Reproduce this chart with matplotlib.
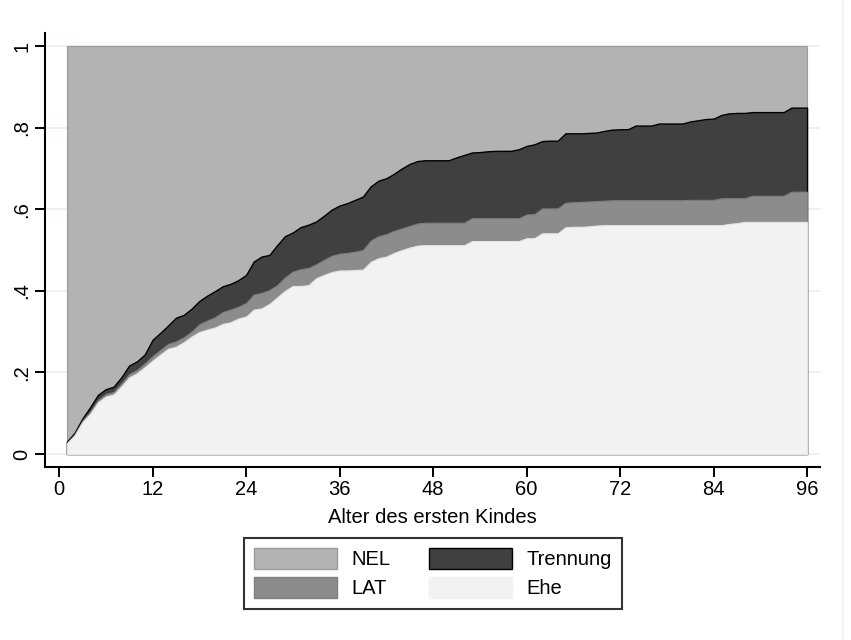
import matplotlib
matplotlib.use("Agg")
import matplotlib.pyplot as plt
from matplotlib.lines import Line2D
from matplotlib.patches import Patch

plt.rcParams['font.family'] = ['Liberation Sans', 'DejaVu Sans']

# Alter des ersten Kindes in Monaten
months = list(range(1, 97))

# kumulierte Anteile (gestapelt von unten): Ehe, + LAT, + Trennung; NEL fuellt bis 1
ehe = [0.026, 0.046, 0.078, 0.099, 0.127, 0.141, 0.146, 0.166, 0.188, 0.198,
       0.213, 0.229, 0.244, 0.258, 0.263, 0.274, 0.288, 0.299, 0.305, 0.310,
       0.319, 0.323, 0.332, 0.337, 0.354, 0.357, 0.368, 0.384, 0.400, 0.412,
       0.412, 0.414, 0.431, 0.439, 0.446, 0.450, 0.450, 0.451, 0.452, 0.471,
       0.480, 0.484, 0.493, 0.500, 0.506, 0.511, 0.512, 0.512, 0.512, 0.512,
       0.512, 0.512, 0.522, 0.522, 0.522, 0.522, 0.522, 0.522, 0.522, 0.529,
       0.529, 0.541, 0.541, 0.541, 0.556, 0.557, 0.557, 0.558, 0.560, 0.561,
       0.561, 0.561, 0.561, 0.561, 0.561, 0.561, 0.561, 0.561, 0.561, 0.561,
       0.561, 0.561, 0.561, 0.561, 0.561, 0.564, 0.566, 0.569, 0.569, 0.569,
       0.569, 0.569, 0.569, 0.569, 0.569, 0.569]
lat = [0.027, 0.048, 0.082, 0.104, 0.132, 0.147, 0.152, 0.173, 0.196, 0.206,
       0.222, 0.240, 0.255, 0.270, 0.276, 0.286, 0.300, 0.318, 0.327, 0.335,
       0.348, 0.354, 0.361, 0.370, 0.391, 0.395, 0.402, 0.414, 0.433, 0.447,
       0.453, 0.456, 0.465, 0.476, 0.486, 0.491, 0.493, 0.496, 0.500, 0.523,
       0.534, 0.539, 0.547, 0.553, 0.559, 0.565, 0.567, 0.567, 0.567, 0.567,
       0.567, 0.567, 0.578, 0.578, 0.578, 0.578, 0.578, 0.578, 0.578, 0.587,
       0.588, 0.602, 0.602, 0.602, 0.616, 0.617, 0.618, 0.619, 0.620, 0.621,
       0.622, 0.622, 0.622, 0.622, 0.622, 0.622, 0.622, 0.622, 0.622, 0.622,
       0.623, 0.623, 0.623, 0.623, 0.627, 0.627, 0.627, 0.627, 0.633, 0.633,
       0.633, 0.633, 0.633, 0.643, 0.643, 0.643]
trennung = [0.030, 0.052, 0.087, 0.115, 0.145, 0.159, 0.165, 0.188, 0.217, 0.227,
            0.244, 0.280, 0.297, 0.315, 0.334, 0.341, 0.356, 0.375, 0.388, 0.399,
            0.411, 0.417, 0.426, 0.439, 0.472, 0.484, 0.488, 0.512, 0.534, 0.543,
            0.556, 0.562, 0.570, 0.584, 0.599, 0.609, 0.615, 0.623, 0.631, 0.656,
            0.670, 0.676, 0.687, 0.700, 0.711, 0.718, 0.720, 0.720, 0.720, 0.720,
            0.727, 0.733, 0.739, 0.740, 0.742, 0.743, 0.743, 0.743, 0.747, 0.755,
            0.759, 0.767, 0.768, 0.768, 0.786, 0.786, 0.786, 0.787, 0.788, 0.792,
            0.795, 0.796, 0.796, 0.805, 0.805, 0.805, 0.810, 0.810, 0.810, 0.810,
            0.815, 0.818, 0.821, 0.822, 0.831, 0.835, 0.836, 0.836, 0.838, 0.838,
            0.838, 0.838, 0.838, 0.849, 0.849, 0.849]
nel = [1.0] * len(months)

fills = ["#b3b3b3", "#404040", "#8c8c8c", "#f2f2f2"]
edges = ["#9a9a9a", "#000000", "#7e7e7e", "#e4e4e4"]

fig = plt.figure(figsize=(8.51, 6.4), dpi=100)
ax = fig.add_axes([45 / 851, 1 - 466.5 / 640, 775 / 851, 433.5 / 640])

# Stata-Stil: jede Flaeche von 0 bis zum kumulierten Wert, hintereinander gezeichnet
for vals, fc, ec in zip([nel, trennung, lat, ehe], fills, edges):
    ax.fill_between(months, 0, vals, facecolor=fc, edgecolor=ec,
                    linewidth=1.0 if ec == "#000000" else 0.8, zorder=2)

ax.set_xlim(-1.8, 97.66)
ax.set_ylim(-0.0306, 1.0319)
ax.set_xticks(range(0, 97, 12))
ax.set_yticks([0, 0.2, 0.4, 0.6, 0.8, 1])
ax.set_yticklabels(["0", ".2", ".4", ".6", ".8", "1"], rotation=90, va="center")
ax.grid(True, axis="y", color="#e8f0f2", linewidth=1.2, zorder=0)
ax.set_axisbelow(True)
for s in ["top", "right"]:
    ax.spines[s].set_visible(False)
for s in ["left", "bottom"]:
    ax.spines[s].set_linewidth(1.5)
ax.tick_params(length=7, width=1.4, labelsize=14.5, pad=3)
ax.set_xlabel("Alter des ersten Kindes", fontsize=14.5, labelpad=6)

fig.add_artist(Line2D([843 / 851, 843 / 851], [0, 1], color="#eef2f4", lw=1.2))

handles = [Patch(facecolor=fills[0], edgecolor=edges[0]),
           Patch(facecolor=fills[2], edgecolor=edges[2]),
           Patch(facecolor=fills[1], edgecolor=edges[1]),
           Patch(facecolor=fills[3], edgecolor=fills[3])]
leg = fig.legend(handles, ["NEL", "LAT", "Trennung", "Ehe"], ncol=2,
                 loc="upper center", bbox_to_anchor=(433 / 851, 1 - 528 / 640),
                 fontsize=14.5, handlelength=4.1, handleheight=1.2,
                 columnspacing=1.9, handletextpad=0.75, labelspacing=0.4,
                 borderpad=0.5, fancybox=False, edgecolor="black")
leg.get_frame().set_linewidth(1.5)

fig.savefig("out.png", dpi=100)
